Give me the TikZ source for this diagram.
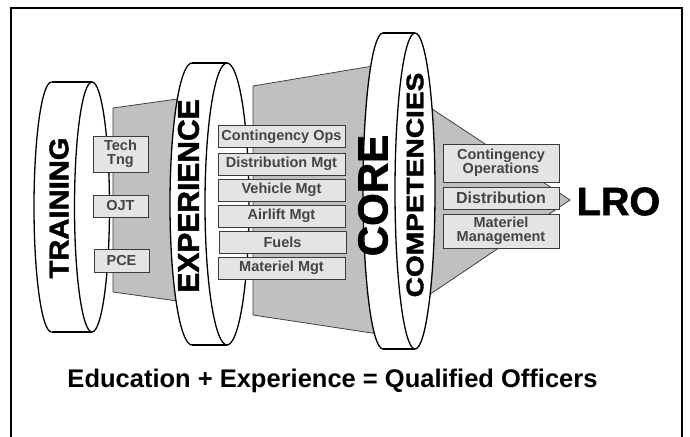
\documentclass[tikz,border=0pt]{standalone}
\usepackage{fontspec}
\setmainfont{Liberation Sans}
\newfontfamily\heavyfont{Liberation Sans Bold}[FakeBold=1.6]
\definecolor{areagray}{HTML}{C0C0C0}
\definecolor{edgegray}{HTML}{404040}
\definecolor{boxfill}{HTML}{E4E4E4}
\definecolor{boxedge}{HTML}{3A3A3A}
\definecolor{boxtext}{HTML}{444444}
\newcommand\drawring[5]{% xl, xr, cy, rx, ry
  \fill[white] (#1,#3) ellipse [x radius=#4, y radius=#5];
  \fill[white] (#1,#3-#5) rectangle (#2,#3+#5);
  \fill[white] (#2,#3) ellipse [x radius=#4, y radius=#5];
  \begin{scope}
    \clip (#1-#4-4,#3-#5-4) rectangle (#1,#3+#5+4);
    \draw[ringline] (#1,#3) ellipse [x radius=#4, y radius=#5];
  \end{scope}
  \draw[ringline] (#1,#3-#5) -- (#2,#3-#5);
  \draw[ringline] (#1,#3+#5) -- (#2,#3+#5);
  \draw[ringline] (#2,#3) ellipse [x radius=#4, y radius=#5];
}
\begin{document}
\begin{tikzpicture}[x=1pt,y=-1pt,
  ringline/.style={line width=1.3pt, draw=black},
  areaedge/.style={draw=edgegray, line width=0.8pt},
  itembox/.style={draw=boxedge, fill=boxfill, line width=1pt, inner sep=0pt,
    text=boxtext, font=\bfseries\fontsize{14.5}{14}\selectfont, align=center},
  ringtext/.style={rotate=90, inner sep=0pt, text=black}
]
\useasboundingbox (0,0) rectangle (690,436);
\fill[white] (0,0) rectangle (690,436);
% frame
\draw[line width=1.8pt] (11,445) -- (11,8) -- (682,8) -- (682,445);

% gray areas
\fill[areagray] (113,108) -- (206,95) -- (206,305) -- (113,292) -- cycle;
\draw[areaedge] (206,95) -- (113,108) -- (113,292) -- (206,305);
\fill[areagray] (253,86) -- (385,64) -- (385,335) -- (253,315) -- cycle;
\draw[areaedge] (385,64) -- (253,86) -- (253,315) -- (385,335);
\fill[areagray] (420,101) -- (570,200) -- (420,301) -- cycle;
\draw[areaedge] (420,101) -- (570,200) -- (420,301);

% training ring
\drawring{51.5}{92}{207}{17.5}{125}
\node[ringtext, font=\heavyfont\fontsize{27}{27}\selectfont] (training) at (59,208) {\scalebox{1.08}[1]{TRAINING}};
\node[itembox, minimum width=55pt, minimum height=36pt] (tech) at (120.5,154) {Tech\\Tng};
\node[itembox, minimum width=55pt, minimum height=22pt] (ojt) at (120.5,206) {OJT};
\node[itembox, minimum width=55pt, minimum height=23pt] (pce) at (121.5,260.5) {PCE};

% experience ring
\drawring{192}{227}{204}{22}{141}
\node[ringtext, font=\heavyfont\fontsize{30}{30}\selectfont] (experience) at (188.5,196) {EXPERIENCE};
\node[itembox, minimum width=127pt, minimum height=22pt] (cops) at (281.5,136.5) {Contingency Ops};
\node[itembox, minimum width=127pt, minimum height=22pt] (dmgt) at (281.5,164) {Distribution Mgt};
\node[itembox, minimum width=127pt, minimum height=22pt] (vmgt) at (281.5,190) {Vehicle Mgt};
\node[itembox, minimum width=127pt, minimum height=22pt] (amgt) at (281.5,216) {Airlift Mgt};
\node[itembox, minimum width=127pt, minimum height=22pt] (fuels) at (282.5,242) {Fuels};
\node[itembox, minimum width=127pt, minimum height=22pt] (mmgt) at (281.5,268) {Materiel Mgt};

% core ring
\drawring{383}{415}{191}{20}{158}
\node[ringtext, font=\heavyfont\fontsize{42}{42}\selectfont] (core) at (373,195.5) {CORE};
\node[ringtext, font=\heavyfont\fontsize{24}{24}\selectfont] (competencies) at (415,185) {\scalebox{1.17}[1]{COMPETENCIES}};
\node[itembox, minimum width=116pt, minimum height=38pt] (coper) at (501,163) {Contingency\\Operations};
\node[itembox, minimum width=116pt, minimum height=22pt, font=\bfseries\fontsize{16}{16}\selectfont] (dist) at (501,198) {Distribution};
\node[itembox, minimum width=116pt, minimum height=34pt] (mman) at (501,231) {Materiel\\Management};

% LRO
\node[inner sep=0pt, font=\heavyfont\fontsize{39.5}{40}\selectfont] (lro) at (618.5,201.5) {LRO};

% bottom line
\node[inner sep=0pt, anchor=base, font=\bfseries\fontsize{25.5}{26}\selectfont] (motto) at (332.5,387) {Education + Experience = Qualified Officers};
\end{tikzpicture}
\end{document}
